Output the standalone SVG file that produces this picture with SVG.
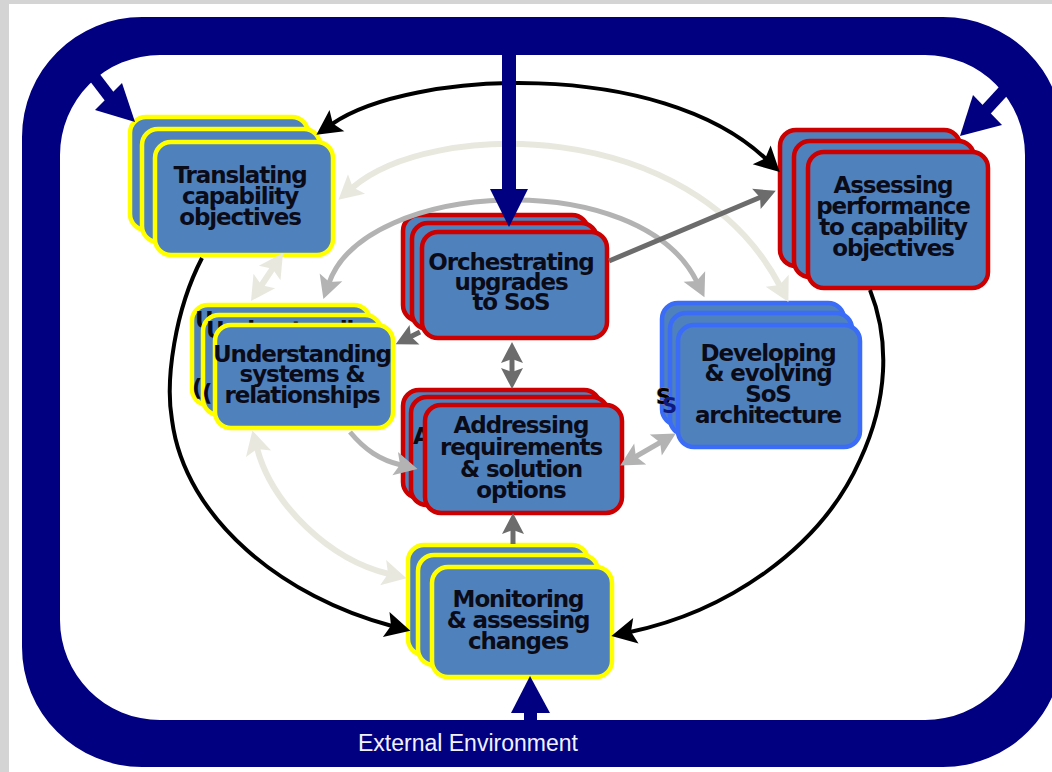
<svg xmlns="http://www.w3.org/2000/svg" width="1052" height="772" viewBox="0 0 1052 772">
  <defs>
    <style>
      .card { fill: #4f81bd; stroke-width: 4.5; }
      .y { stroke: #ffff00; }
      .r { stroke: #cc0000; }
      .b { stroke: #3b6cf7; }
      .lbl { font-family: "DejaVu Sans", "Liberation Sans", sans-serif; font-weight: bold; font-size: 23px; letter-spacing: -1.1px; fill: #0b0b18; text-anchor: middle; }
      .ghost { font-family: "DejaVu Sans", "Liberation Sans", sans-serif; font-weight: bold; font-size: 23px; letter-spacing: -1.1px; fill: #0b0b18; }
      .blk { stroke: #000000; stroke-width: 4; fill: none; }
      .bei { stroke: #e9e8df; stroke-width: 6; fill: none; }
      .gry { stroke: #b3b3b3; stroke-width: 5; fill: none; }
      .dk { stroke: #6c6c6c; stroke-width: 5; fill: none; }
      .navy { fill: #000080; }
      .env { font-family: "Liberation Sans", Arial, sans-serif; font-size: 23px; fill: #f2f2ff; }
    </style>
    <marker id="hBlk" markerUnits="userSpaceOnUse" markerWidth="26" markerHeight="28" refX="6" refY="13" orient="auto-start-reverse" overflow="visible">
      <path d="M0,0 L25,13 L0,26 L5,13 z" fill="#000000"/>
    </marker>
    <marker id="hBei" markerUnits="userSpaceOnUse" markerWidth="26" markerHeight="28" refX="6" refY="13" orient="auto-start-reverse" overflow="visible">
      <path d="M0,0 L24,13 L0,26 L5,13 z" fill="#e9e8df"/>
    </marker>
    <marker id="hGry" markerUnits="userSpaceOnUse" markerWidth="26" markerHeight="26" refX="6" refY="12" orient="auto-start-reverse" overflow="visible">
      <path d="M0,0 L23,12 L0,24 L5,12 z" fill="#b3b3b3"/>
    </marker>
    <marker id="hDk" markerUnits="userSpaceOnUse" markerWidth="24" markerHeight="24" refX="5" refY="11" orient="auto-start-reverse" overflow="visible">
      <path d="M0,0 L21,11 L0,22 L4,11 z" fill="#6c6c6c"/>
    </marker>
  </defs>

  <!-- page -->
  <rect x="0" y="0" width="1052" height="772" fill="#d4d4d4"/>
  <rect x="9" y="4" width="1043" height="768" fill="#ffffff"/>

  <!-- external environment frame -->
  <g id="environment">
    <path class="navy" fill-rule="evenodd" d="M142,17 H943 A120,120 0 0 1 1063,137 V647 A120,120 0 0 1 943,767 H142 A120,120 0 0 1 22,647 V137 A120,120 0 0 1 142,17 Z M160,55 H925 A100,100 0 0 1 1025,155 V620 A100,100 0 0 1 925,720 H160 A100,100 0 0 1 60,620 V155 A100,100 0 0 1 160,55 Z"/>
    <text class="env" x="358" y="751">External Environment</text>
  </g>

  <!-- nodes -->
  <g id="translating">
    <rect class="card y" x="130" y="117" width="178" height="113" rx="16"/>
    <rect class="card y" x="142" y="129" width="178" height="113" rx="16"/>
    <rect class="card y" x="155" y="142" width="178" height="113" rx="16"/>
    <text class="lbl" x="240" y="183">Translating</text>
    <text class="lbl" x="240" y="204">capability</text>
    <text class="lbl" x="240" y="225">objectives</text>
  </g>

  <g id="assessing">
    <rect class="card r" x="780" y="130" width="180" height="136" rx="16"/>
    <rect class="card r" x="794" y="141" width="180" height="136" rx="16"/>
    <rect class="card r" x="808" y="152" width="180" height="136" rx="16"/>
    <text class="lbl" x="893" y="193">Assessing</text>
    <text class="lbl" x="893" y="214">performance</text>
    <text class="lbl" x="893" y="235">to capability</text>
    <text class="lbl" x="893" y="256">objectives</text>
  </g>

  <g id="orchestrating">
    <rect class="card r" x="403" y="215" width="185" height="106" rx="16"/>
    <rect class="card r" x="412" y="223" width="185" height="106" rx="16"/>
    <rect class="card r" x="422" y="232" width="185" height="106" rx="16"/>
    <text class="lbl" x="511" y="270">Orchestrating</text>
    <text class="lbl" x="511" y="290">upgrades</text>
    <text class="lbl" x="511" y="310">to SoS</text>
  </g>

  <g id="understanding">
    <rect class="card y" x="192" y="305" width="178" height="100" rx="16"/>
    <text class="ghost" x="195" y="328">U</text>
    <text class="ghost" x="192" y="396">(</text>
    <rect class="card y" x="203" y="315" width="178" height="100" rx="16"/>
    <text class="ghost" x="206" y="338">Understanding</text>
    <text class="ghost" x="202" y="401">(</text>
    <rect class="card y" x="215" y="325" width="178" height="103" rx="16"/>
    <text class="lbl" x="302" y="362">Understanding</text>
    <text class="lbl" x="302" y="382">systems &amp;</text>
    <text class="lbl" x="302" y="403">relationships</text>
  </g>

  <g id="addressing">
    <rect class="card r" x="403" y="390" width="197" height="108" rx="16"/>
    <rect class="card r" x="411" y="397" width="197" height="108" rx="16"/>
    <text class="ghost" x="413" y="444">A</text>
    <rect class="card r" x="425" y="405" width="197" height="108" rx="16"/>
    <text class="lbl" x="521" y="433">Addressing</text>
    <text class="lbl" x="521" y="455">requirements</text>
    <text class="lbl" x="521" y="477">&amp; solution</text>
    <text class="lbl" x="521" y="498">options</text>
  </g>

  <g id="developing">
    <rect class="card b" x="662" y="303" width="182" height="122" rx="16"/>
    <rect class="card b" x="670" y="313" width="182" height="122" rx="16"/>
    <rect class="card b" x="678" y="325" width="182" height="122" rx="16"/>
    <text class="lbl" x="768" y="361">Developing</text>
    <text class="lbl" x="768" y="381">&amp; evolving</text>
    <text class="lbl" x="768" y="402">SoS</text>
    <text class="lbl" x="768" y="423">architecture</text>
    <text class="ghost" x="656" y="404" style="fill:#000000;stroke:#c87a1e;stroke-width:0.8;paint-order:stroke;font-size:21px">S</text>
    <text class="ghost" x="662" y="413" style="fill:#0d1a80;font-size:21px">S</text>
  </g>

  <g id="monitoring">
    <rect class="card y" x="408" y="545" width="180" height="110" rx="16"/>
    <rect class="card y" x="418" y="555" width="180" height="110" rx="16"/>
    <rect class="card y" x="432" y="567" width="180" height="110" rx="16"/>
    <text class="lbl" x="518" y="607">Monitoring</text>
    <text class="lbl" x="518" y="628">&amp; assessing</text>
    <text class="lbl" x="518" y="649">changes</text>
  </g>

  <!-- connectors -->
  <g id="connectors">
    <!-- outer beige ring -->
    <path class="bei" d="M352,188 C430,120 690,115 780,286" marker-start="url(#hBei)" marker-end="url(#hBei)"/>
    <path class="bei" d="M261,286 L273,268" marker-start="url(#hBei)" marker-end="url(#hBei)"/>
    <path class="bei" d="M257,448 C272,505 330,560 389,574" marker-start="url(#hBei)" marker-end="url(#hBei)"/>
    <!-- inner gray ring -->
    <path class="gry" d="M329,283 C365,180 640,165 697,282" marker-start="url(#hGry)" marker-end="url(#hGry)"/>
    <path class="gry" d="M350,432 C365,450 380,460 401,465" marker-end="url(#hGry)"/>
    <path class="gry" d="M635,457 L661,442" marker-start="url(#hGry)" marker-end="url(#hGry)"/>
    <!-- black cycle -->
    <path class="blk" d="M332,124 C410,70 660,58 766,159" marker-start="url(#hBlk)" marker-end="url(#hBlk)"/>
    <path class="blk" d="M202,258 C175,310 165,380 172,420 C185,520 285,598 392,626" marker-end="url(#hBlk)"/>
    <path class="blk" d="M870,290 C890,340 888,400 860,460 C820,550 725,612 630,632" marker-end="url(#hBlk)"/>
    <!-- dark gray links -->
    <path class="dk" d="M609,261 L761,197" marker-end="url(#hDk)"/>
    <path class="dk" d="M420,332 L410,337" marker-end="url(#hDk)"/>
    <path class="dk" d="M512,358 L512,373" marker-start="url(#hDk)" marker-end="url(#hDk)"/>
    <path class="dk" d="M513,544 L513,529" marker-end="url(#hDk)"/>
  </g>

  <!-- environment inputs -->
  <g id="env-inputs">
    <rect class="navy" x="502" y="40" width="14" height="152"/>
    <polygon class="navy" points="490,189 528,189 509,227"/>
    <rect class="navy" x="524" y="710" width="13" height="14"/>
    <polygon class="navy" points="511,713 550,713 530,676"/>
    <line x1="86" y1="66" x2="112" y2="100" stroke="#000080" stroke-width="12"/>
    <polygon class="navy" points="95,110 122,83 135,122"/>
    <line x1="1008" y1="86" x2="985" y2="111" stroke="#000080" stroke-width="12"/>
    <polygon class="navy" points="973,95 1002,125 960,136"/>
  </g>
</svg>
